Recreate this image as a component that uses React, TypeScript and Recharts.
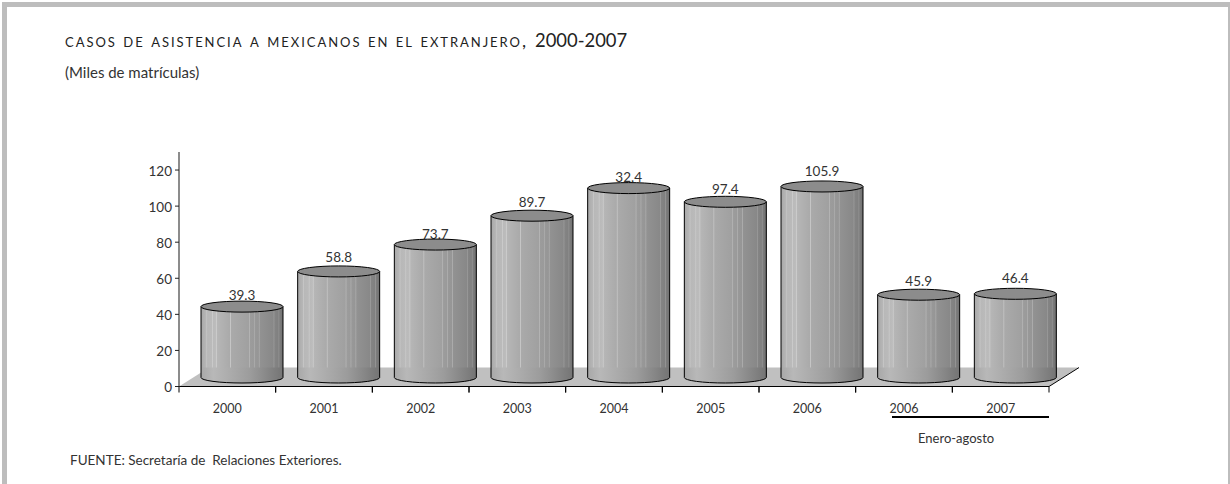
import { BarChart, Bar, XAxis, YAxis, ReferenceArea } from "recharts";

const years = ["2000", "2001", "2002", "2003", "2004", "2005", "2006", "2006", "2007"];
const casos = [39.3, 58.8, 73.7, 89.7, 105, 97.4, 105.9, 45.9, 46.4];
const etiquetas = ["39.3", "58.8", "73.7", "89.7", "32.4", "97.4", "105.9", "45.9", "46.4"];
const yTicks = [0, 20, 40, 60, 80, 100, 120];

// how far each value label sits above its cylinder
const labelLift = [6.5, 9, 5.5, 9, 6, 8, 10.5, 8.5, 10.5];

const chartData = years.map((year, i) => ({
  year,
  casos: casos[i],
  etiqueta: etiquetas[i],
  lift: labelLift[i],
}));

const FONT = "Lato, 'Open Sans', sans-serif";
const INK = "#333";

// gradient of the cylinder side, with the thin pale stripes of the original
const sideStops: [number, string][] = [
  [0, "#a8a8a8"],
  [6, "#b6b6b6"],
  [7, "#c6c6c6"],
  [8, "#b8b8b8"],
  [13, "#bababa"],
  [14, "#cacaca"],
  [15, "#bababa"],
  [18, "#bcbcbc"],
  [19, "#cccccc"],
  [20, "#b6b6b6"],
  [35, "#aaaaaa"],
  [36, "#c6c6c6"],
  [37, "#aaaaaa"],
  [58, "#a0a0a0"],
  [59, "#b6b6b6"],
  [60, "#9c9c9c"],
  [64, "#9a9a9a"],
  [65, "#aeaeae"],
  [66, "#989898"],
  [70, "#969696"],
  [71, "#acacac"],
  [72, "#929292"],
  [88, "#888888"],
  [89, "#9c9c9c"],
  [90, "#848484"],
  [94, "#808080"],
  [95, "#949494"],
  [96, "#7c7c7c"],
  [100, "#707070"],
];

const Cylinder = (props: any) => {
  const { x, y, width, height, etiqueta, lift } = props;
  const rx = 41;
  const ry = 5.5;
  const shiftX = 14.5;
  const shiftY = -9;
  const cx = x + width / 2 + shiftX;
  const left = cx - rx;
  const right = cx + rx;
  const top = y + shiftY;
  const bottom = y + height + shiftY;
  const band = bottom - 10;

  return (
    <g>
      <text x={cx} y={top - lift} textAnchor="middle" fontFamily={FONT} fontSize={13.5} fill={INK}>
        {etiqueta}
      </text>
      <path
        d={`M${left},${top} L${left},${bottom} A${rx},${ry} 0 0 0 ${right},${bottom} L${right},${top} Z`}
        fill="url(#cylinderSide)"
      />
      <path
        d={`M${left},${band} L${left},${bottom} A${rx},${ry} 0 0 0 ${right},${bottom} L${right},${band} Z`}
        fill="url(#cylinderBase)"
      />
      <path
        d={`M${left},${top} L${left},${bottom} A${rx},${ry} 0 0 0 ${right},${bottom} L${right},${top}`}
        fill="none"
        stroke="#000"
        strokeWidth={1}
      />
      <ellipse cx={cx} cy={top} rx={rx} ry={ry} fill="#8c8c8c" stroke="#000" strokeWidth={1} />
    </g>
  );
};

const Floor = (props: any) => {
  const { x, y, width, height } = props;
  const depth = 30;
  const yBottom = y + height;
  const yTop = y;
  return (
    <g>
      <polygon
        points={`${x},${yBottom} ${x + width},${yBottom} ${x + width + depth},${yTop} ${x + depth},${yTop}`}
        fill="#c0c0c0"
      />
      <line
        x1={x + width}
        y1={yBottom}
        x2={x + width + depth}
        y2={yTop}
        stroke="#000"
        strokeWidth={1}
      />
    </g>
  );
};

const YearTick = (props: any) => {
  const { x, y, payload } = props;
  const band = 870 / years.length;
  return (
    <g>
      <line x1={x - band / 2} y1={y} x2={x - band / 2} y2={y + 6} stroke="#000" />
      <line x1={x + band / 2} y1={y} x2={x + band / 2} y2={y + 6} stroke="#000" />
      <text x={x} y={y + 26} textAnchor="middle" fontFamily={FONT} fontSize={12.5} fill={INK}>
        {payload.value}
      </text>
    </g>
  );
};

export default function App() {
  return (
    <div
      style={{
        position: "absolute",
        left: 0,
        top: 0,
        width: 1230,
        height: 484,
        overflow: "hidden",
        background: "#fff",
        fontFamily: FONT,
        color: INK,
      }}
    >
      <div
        style={{
          position: "absolute",
          left: 2,
          top: 2,
          width: 1228,
          height: 482,
          boxSizing: "border-box",
          borderTop: "5px solid #bdbdbd",
          borderLeft: "5px solid #bdbdbd",
          borderRight: "2px solid #bdbdbd",
        }}
      />
      <div
        style={{
          position: "absolute",
          left: 65,
          top: 27,
          whiteSpace: "nowrap",
          fontSize: 18,
          letterSpacing: 1.95,
          fontVariant: "small-caps",
          color: "#222",
        }}
      >
        casos de asistencia a mexicanos en el extranjero,{" "}
        <span
          style={{
            display: "inline-block",
            fontSize: 20,
            letterSpacing: 0,
            fontVariant: "normal",
            transform: "scaleX(0.92)",
            transformOrigin: "left",
          }}
        >
          2000-2007
        </span>
      </div>
      <div style={{ position: "absolute", left: 65, top: 63, fontSize: 15 }}>
        (Miles de matrículas)
      </div>

      <BarChart
        width={1230}
        height={484}
        data={chartData}
        margin={{ top: 152, right: 181, bottom: 37.5, left: 139 }}
        barCategoryGap={8}
        style={{ position: "absolute", left: 0, top: 0 }}
      >
        <defs>
          <linearGradient id="cylinderSide" x1="0" y1="0" x2="1" y2="0">
            {sideStops.map(([offset, color]) => (
              <stop key={offset} offset={`${offset}%`} stopColor={color} />
            ))}
          </linearGradient>
          <linearGradient id="cylinderBase" x1="0" y1="0" x2="1" y2="0">
            <stop offset="0%" stopColor="#a8a8a8" />
            <stop offset="15%" stopColor="#b8b8b8" />
            <stop offset="60%" stopColor="#9c9c9c" />
            <stop offset="100%" stopColor="#747474" />
          </linearGradient>
        </defs>
        <ReferenceArea y1={0} y2={10.5} shape={Floor} stroke="none" ifOverflow="visible" />
        <XAxis
          dataKey="year"
          height={60}
          tickLine={false}
          tickSize={0}
          tickMargin={0}
          tick={YearTick}
          interval={0}
          axisLine={{ stroke: "#000", strokeWidth: 1 }}
        />
        <YAxis
          width={40}
          domain={[0, 130]}
          ticks={yTicks}
          tickSize={4}
          tickMargin={3}
          tickLine={{ stroke: "#222" }}
          axisLine={{ stroke: "#666", strokeWidth: 1.5 }}
          tick={{ fill: INK, fontSize: 13.5, fontFamily: FONT, dy: 1 }}
        />
        <Bar dataKey="casos" shape={Cylinder} isAnimationActive={false} />
      </BarChart>

      <div
        style={{
          position: "absolute",
          left: 892,
          top: 416,
          width: 157,
          height: 2,
          background: "#000",
        }}
      />
      <div
        style={{
          position: "absolute",
          left: 918,
          top: 430,
          fontSize: 13,
          whiteSpace: "nowrap",
        }}
      >
        Enero-agosto
      </div>
      <div
        style={{
          position: "absolute",
          left: 70,
          top: 452,
          fontSize: 13.5,
          whiteSpace: "pre",
        }}
      >
        FUENTE: Secretaría de  Relaciones Exteriores.
      </div>
    </div>
  );
}
